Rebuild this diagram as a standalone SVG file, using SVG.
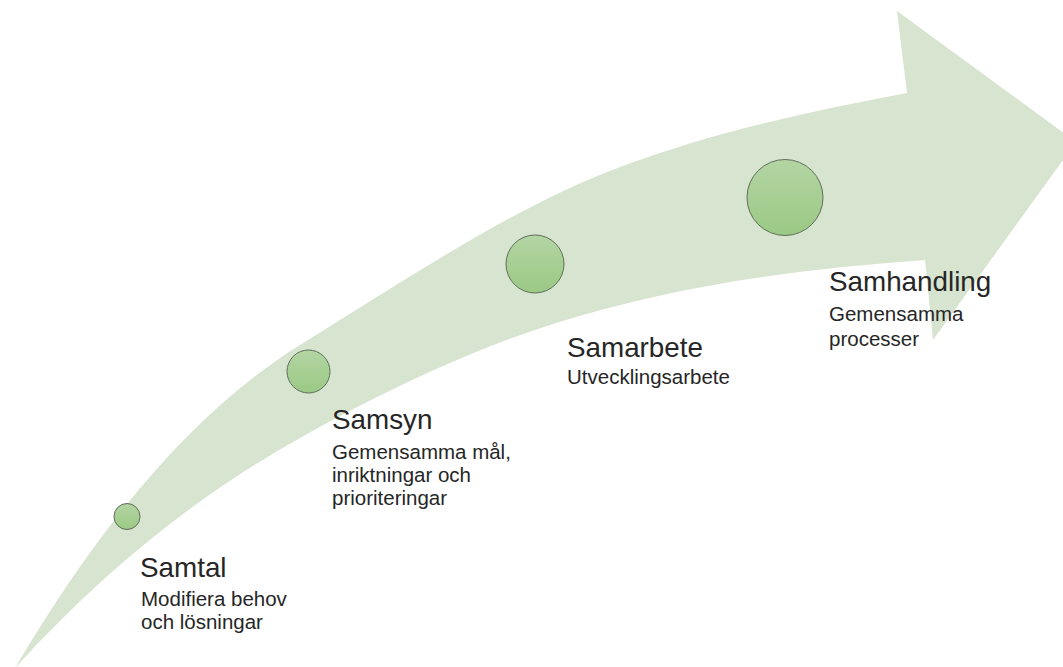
<svg xmlns="http://www.w3.org/2000/svg" width="1063" height="667" viewBox="0 0 1063 667">
  <defs>
    <linearGradient id="dot" x1="0" y1="0" x2="0" y2="1">
      <stop offset="0" stop-color="#b3d5a3"/>
      <stop offset="1" stop-color="#9bc985"/>
    </linearGradient>
    <style>
      .dot { fill: url(#dot); stroke: #5f6e5a; stroke-width: 1; }
      .title { font-family: "Liberation Sans", Arial, sans-serif; font-size: 27.8px; fill: #262626; }
      .sub { font-family: "Liberation Sans", Arial, sans-serif; font-size: 20.5px; fill: #262626; }
    </style>
  </defs>
  <rect width="1063" height="667" fill="#ffffff"/>
  <g id="arrow">
    <path fill="#d7e4cf" d="M15,668 C110,507 205,404 300,345 C407,279 513,207 620,167 C716,131.5 811,111 907,93 L897,11 L1076,142 L933,340 L925,260 C800,268.75 675,285 550,325 C467,351.6 383,391.5 300,438 C205,491 110,563.5 15,668 Z"/>
  </g>
  <g id="connectors"></g>
  <g id="samtal">
    <circle class="dot" cx="127" cy="516.5" r="13"/>
    <text class="title" x="140" y="577">Samtal</text>
    <text class="sub" x="141" y="606">Modifiera behov</text>
    <text class="sub" x="141" y="629">och lösningar</text>
  </g>
  <g id="samsyn">
    <circle class="dot" cx="308.5" cy="371.5" r="21.5"/>
    <text class="title" x="332" y="429">Samsyn</text>
    <text class="sub" x="332" y="459">Gemensamma mål,</text>
    <text class="sub" x="332" y="482">inriktningar och</text>
    <text class="sub" x="332" y="505">prioriteringar</text>
  </g>
  <g id="samarbete">
    <circle class="dot" cx="535" cy="264" r="29"/>
    <text class="title" x="567" y="357">Samarbete</text>
    <text class="sub" x="567" y="384">Utvecklingsarbete</text>
  </g>
  <g id="samhandling">
    <circle class="dot" cx="785" cy="197.5" r="38"/>
    <text class="title" x="829" y="291">Samhandling</text>
    <text class="sub" x="829" y="321">Gemensamma</text>
    <text class="sub" x="829" y="346">processer</text>
  </g>
</svg>
